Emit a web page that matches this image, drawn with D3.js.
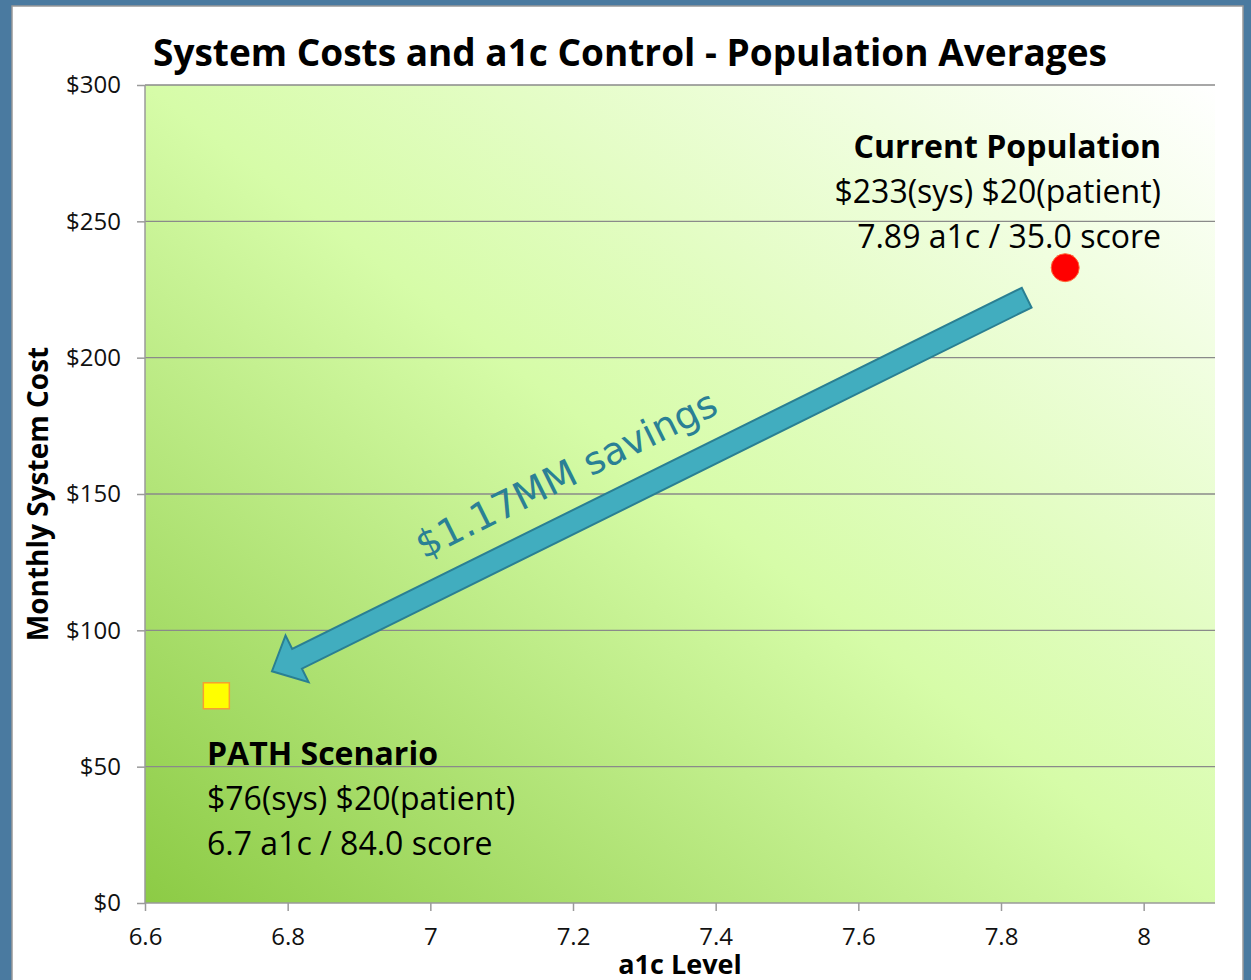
<!DOCTYPE html>
<html>
<head>
<meta charset="utf-8">
<script src="https://cdn.jsdelivr.net/npm/d3@7"></script>
<style>
  body { margin: 0; background: #4a7aa0; }
  svg { display: block; }
</style>
</head>
<body>
<svg id="chart" width="1251" height="980"></svg>
<script>
// values
var xTicks = [6.6, 6.8, 7.0, 7.2, 7.4, 7.6, 7.8, 8.0];
var yTicks = [0, 50, 100, 150, 200, 250, 300];
var scenarios = ["Current Population", "PATH Scenario"];
var a1c = [7.89, 6.7];
var sysCost = [233, 76];
var patientCost = [20, 20];
var score = [35.0, 84.0];
var savingsLabel = "$1.17MM savings";
var arrowFrom = [7.836, 222];
var arrowTo = [6.778, 85];

var W = 1251, H = 980;
var mLeft = 145, mRight = 1215, mTop = 85, mBottom = 903;
var font = "'Open Sans', sans-serif";

var svg = d3.select("#chart");

// frame
svg.append("rect").attr("x", 0).attr("y", 0).attr("width", W).attr("height", H).attr("fill", "#4a7aa0");
svg.append("rect").attr("x", 12).attr("y", 6).attr("width", 1231).attr("height", 990)
    .attr("fill", "#fff").attr("stroke", "#999").attr("stroke-width", 1.5);

var x = d3.scaleLinear().domain([6.6, 8.1]).range([mLeft, mRight]);
var y = d3.scaleLinear().domain([0, 300]).range([mBottom, mTop]);

var defs = svg.append("defs");
var grad = defs.append("linearGradient").attr("id", "bg")
    .attr("x1", 0).attr("y1", 1).attr("x2", 1).attr("y2", 0);
grad.append("stop").attr("offset", 0).attr("stop-color", "#8ccb45");
grad.append("stop").attr("offset", 0.5).attr("stop-color", "#d6fca8");
grad.append("stop").attr("offset", 1).attr("stop-color", "#ffffff");

svg.append("rect").attr("x", mLeft).attr("y", mTop)
    .attr("width", mRight - mLeft).attr("height", mBottom - mTop)
    .attr("fill", "url(#bg)");

// grid
svg.append("g").selectAll("line").data(yTicks.slice(1)).join("line")
    .attr("x1", mLeft).attr("x2", mRight)
    .attr("y1", d => y(d)).attr("y2", d => y(d))
    .attr("stroke", "#8a8a8a").attr("stroke-width", 1.3);

// axes
var yAxis = svg.append("g").attr("transform", "translate(" + mLeft + ",0)")
    .call(d3.axisLeft(y).tickValues(yTicks).tickFormat(d => "$" + d).tickSize(8).tickPadding(16));
var xAxis = svg.append("g").attr("transform", "translate(0," + mBottom + ")")
    .call(d3.axisBottom(x).tickValues(xTicks).tickFormat(d3.format("")).tickSize(8).tickPadding(17));
[yAxis, xAxis].forEach(function(g) {
    g.select(".domain").attr("stroke", "#9a9a9a").attr("stroke-width", 1.5);
    g.selectAll(".tick line").attr("stroke", "#9a9a9a").attr("stroke-width", 1.5);
    g.selectAll("text").attr("font-family", font).attr("font-size", 24).attr("fill", "#111");
});
xAxis.select(".domain").attr("d", "M" + mLeft + ",0H" + mRight);
yAxis.select(".domain").attr("d", "M0," + mTop + "V" + mBottom);

// titles
svg.append("text").attr("x", 630).attr("y", 66).attr("text-anchor", "middle")
    .attr("font-family", font).attr("font-weight", "bold").attr("font-size", 37)
    .text("System Costs and a1c Control - Population Averages");
svg.append("text").attr("transform", "translate(48,494) rotate(-90)").attr("text-anchor", "middle")
    .attr("font-family", font).attr("font-weight", "bold").attr("font-size", 28)
    .text("Monthly System Cost");
svg.append("text").attr("x", 680).attr("y", 974).attr("text-anchor", "middle")
    .attr("font-family", font).attr("font-weight", "bold").attr("font-size", 27)
    .text("a1c Level");

// arrow
var p0 = [x(arrowFrom[0]), y(arrowFrom[1])], p1 = [x(arrowTo[0]), y(arrowTo[1])];
var dx = p1[0] - p0[0], dy = p1[1] - p0[1], len = Math.hypot(dx, dy);
var ux = dx / len, uy = dy / len, nx = -uy, ny = ux;
var sw = 11, hw = 26, hl = 28;
function pt(a, b) { return [p0[0] + ux * a + nx * b, p0[1] + uy * a + ny * b]; }
var arrowPts = [pt(0, -sw), pt(len - hl, -sw), pt(len - hl, -hw), pt(len, 0),
    pt(len - hl, hw), pt(len - hl, sw), pt(0, sw)];
svg.append("path").attr("d", "M" + arrowPts.join("L") + "Z")
    .attr("fill", "#41adbf").attr("stroke", "#2a7f92").attr("stroke-width", 2);

var ang = Math.atan2(dy, dx) * 180 / Math.PI + 180;
svg.append("text").attr("transform", "translate(572,486) rotate(" + ang + ")")
    .attr("text-anchor", "middle").attr("font-family", "'DejaVu Sans', sans-serif").attr("font-size", 38)
    .attr("fill", "#2a8095").text(savingsLabel);

// points
svg.append("circle").attr("cx", x(a1c[0])).attr("cy", y(sysCost[0])).attr("r", 14)
    .attr("fill", "#ff0000").attr("stroke", "#ff6a3a").attr("stroke-width", 1);
svg.append("rect").attr("x", x(a1c[1]) - 13).attr("y", y(sysCost[1]) - 13)
    .attr("width", 26).attr("height", 26)
    .attr("fill", "#ffff00").attr("stroke", "#f5a030").attr("stroke-width", 1.5);

// labels
function label(i, lx, ly, anchor) {
    var lines = [
        { t: scenarios[i], b: true },
        { t: "$" + sysCost[i] + "(sys) $" + patientCost[i] + "(patient)", b: false },
        { t: a1c[i] + " a1c / " + score[i].toFixed(1) + " score", b: false }
    ];
    svg.append("g").selectAll("text").data(lines).join("text")
        .attr("x", lx).attr("y", (d, k) => ly + k * 45)
        .attr("text-anchor", anchor).attr("font-family", font)
        .attr("font-weight", d => d.b ? "bold" : "normal")
        .attr("font-size", 32).attr("fill", "#000").text(d => d.t);
}
label(0, 1161, 158, "end");
label(1, 207, 765, "start");
</script>
</body>
</html>
